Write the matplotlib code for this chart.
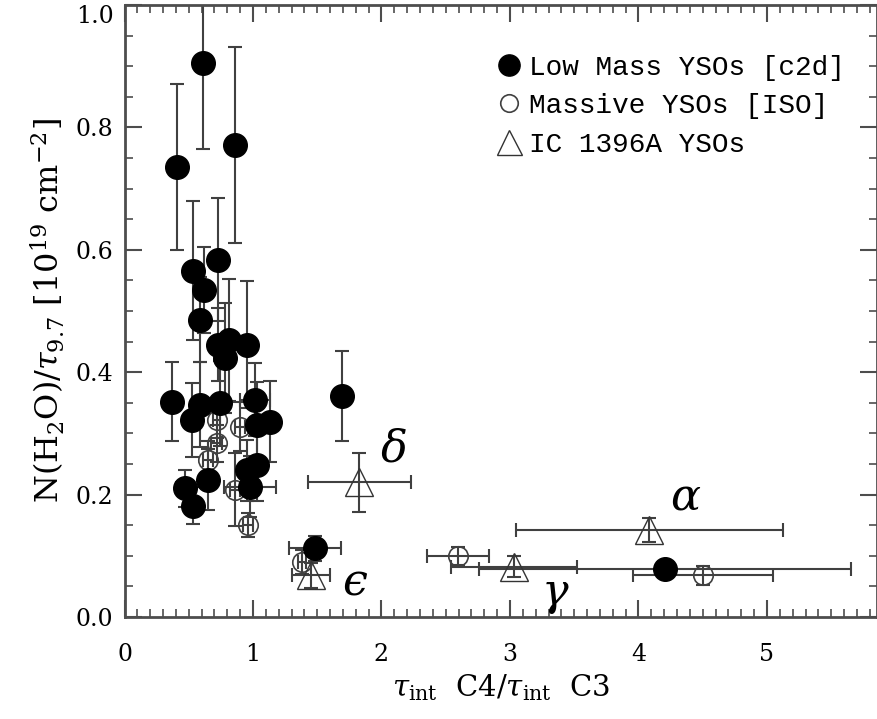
import matplotlib
matplotlib.use("Agg")
import matplotlib.pyplot as plt
from matplotlib.ticker import MultipleLocator, FormatStrFormatter

plt.rcParams['font.family'] = 'DejaVu Serif'
plt.rcParams['mathtext.fontset'] = 'dejavuserif'

# Low mass YSOs [c2d]
lm_x = [0.61, 0.86, 0.406, 0.535, 0.73, 0.619, 0.588, 0.73, 0.81, 0.78, 0.956,
        0.367, 0.523, 0.588, 0.743, 1.016, 1.03, 1.13, 1.03, 0.977, 0.652,
        0.471, 0.535, 0.95, 1.69, 1.483, 4.206]
lm_y = [0.905, 0.771, 0.735, 0.566, 0.584, 0.534, 0.486, 0.445, 0.453, 0.423, 0.445,
        0.352, 0.322, 0.347, 0.349, 0.355, 0.314, 0.319, 0.249, 0.213, 0.224,
        0.210, 0.182, 0.240, 0.361, 0.112, 0.079]
lm_xerr = [0, 0, 0, 0, 0, 0, 0, 0, 0, 0, 0,
           0, 0, 0, 0, 0.12, 0, 0, 0, 0.20, 0,
           0.07, 0.06, 0, 0, 0.20, 1.45]
lm_yerr = [0.14, 0.16, 0.136, 0.113, 0.10, 0.07, 0.07, 0.06, 0.10, 0.09, 0.104,
           0.065, 0.06, 0.07, 0.07, 0.06, 0.07, 0.066, 0.06, 0.05, 0.05,
           0.03, 0.03, 0.05, 0.073, 0.02, 0.01]

# Massive YSOs [ISO]
ms_x = [0.717, 0.652, 0.86, 0.963, 0.899, 0.717, 1.379, 2.598, 4.50]
ms_y = [0.284, 0.257, 0.208, 0.150, 0.311, 0.322, 0.090, 0.100, 0.068]
ms_xerr = [0.04, 0.04, 0.04, 0.04, 0.04, 0.03, 0.03, 0.24, 0.545]
ms_yerr = [0.03, 0.03, 0.06, 0.02, 0.04, 0.03, 0.02, 0.015, 0.015]

# IC 1396A YSOs
ic_x = [1.827, 1.45, 3.03, 4.084]
ic_y = [0.220, 0.068, 0.082, 0.142]
ic_xerr = [0.40, 0.15, 0.49, 1.04]
ic_yerr = [0.048, 0.02, 0.017, 0.02]
ic_names = ['\u03b4', '\u03f5', '\u03b3', '\u03b1']
ic_label_x = [2.1, 1.79, 3.35, 4.36]
ic_label_y = [0.275, 0.055, 0.04, 0.195]

fig = plt.figure(figsize=(8.78, 7.19), dpi=100)
ax = fig.add_axes([0.1418, 0.1419, 0.857, 0.8511])

eb = dict(fmt='none', ecolor='0.25', elinewidth=1.5, capsize=5, capthick=1.5)
ax.errorbar(ms_x, ms_y, xerr=ms_xerr, yerr=ms_yerr, zorder=2, **eb)
ax.errorbar(lm_x, lm_y, xerr=lm_xerr, yerr=lm_yerr, zorder=2, **eb)
ax.errorbar(ic_x, ic_y, xerr=ic_xerr, yerr=ic_yerr, zorder=2, **eb)

ax.plot(ms_x, ms_y, 'o', ms=14, mfc='none', mec='0.25', mew=1.2, zorder=3,
        label='Massive YSOs [ISO]')
ax.plot(lm_x, lm_y, 'o', ms=17, mfc='black', mec='black', zorder=4,
        label='Low Mass YSOs [c2d]')
ax.plot(ic_x, ic_y, '^', ms=20, mfc='none', mec='0.2', mew=1.0, zorder=3,
        label='IC 1396A YSOs')

for n, lx, ly in zip(ic_names, ic_label_x, ic_label_y):
    ax.text(lx, ly, n, fontsize=32, style='italic', ha='center', va='center')

ax.set_xlim(0, 5.856)
ax.set_ylim(0, 1.0)
ax.xaxis.set_major_locator(MultipleLocator(1))
ax.xaxis.set_minor_locator(MultipleLocator(0.1))
ax.yaxis.set_major_locator(MultipleLocator(0.2))
ax.yaxis.set_minor_locator(MultipleLocator(0.05))
ax.yaxis.set_major_formatter(FormatStrFormatter('%.1f'))
ax.tick_params(which='both', direction='in', top=True, right=True,
               labelsize=17, color='0.3')
ax.tick_params(which='major', length=12, width=1.5, pad=8)
ax.tick_params(axis='x', which='major', pad=19)
ax.tick_params(which='minor', length=6, width=1.2)
for s in ax.spines.values():
    s.set_linewidth(2)
    s.set_color('0.3')

ax.set_xlabel(r'$\tau_{\rm int}$  C4/$\tau_{\rm int}$  C3', fontsize=21, labelpad=4)
ax.set_ylabel(r'N(H$_2$O)/$\tau_{9.7}$ [10$^{19}$ cm$^{-2}$]', fontsize=23, labelpad=6)

# keep the top "1.0" label inside the figure
fig.canvas.draw()
for t in ax.yaxis.get_major_ticks():
    if t.label1.get_text() == '1.0':
        t.label1.set_verticalalignment('top')

h, l = ax.get_legend_handles_labels()
order = [1, 0, 2]
ax.legend([h[i] for i in order], [l[i] for i in order], loc='upper right',
          frameon=False, prop={'family': 'Liberation Mono', 'size': 20},
          handletextpad=0.2, handlelength=1.0, markerscale=0.9,
          bbox_to_anchor=(0.99, 0.96), labelspacing=0.45)

fig.savefig('out.png', dpi=100)
